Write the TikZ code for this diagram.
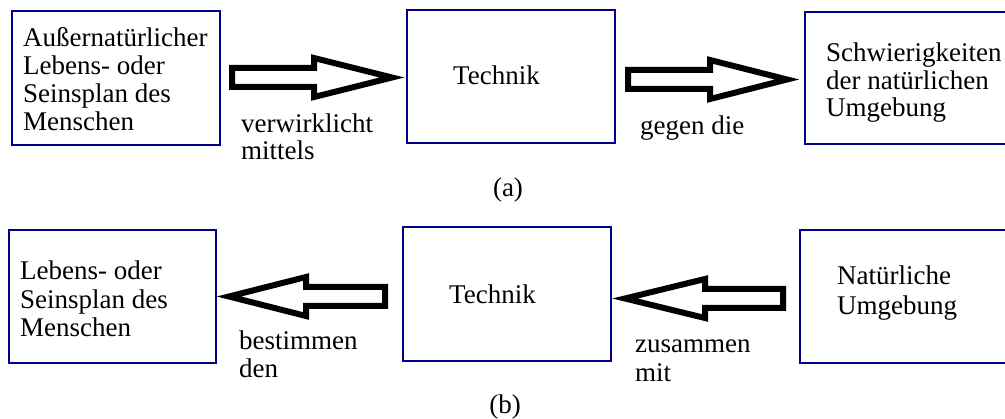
\documentclass[tikz,border=0pt]{standalone}
\usepackage{fontspec}
\setmainfont{Liberation Serif}
\usetikzlibrary{calc}
\definecolor{boxblue}{RGB}{0,0,140}
\newcommand\mylines[1]{\begin{tabular}[t]{@{}l@{}}#1\end{tabular}}
\newcommand\blockarrow[3]{%
  \draw[blockarr] ($(#1)+(0,-9.5)$) -- ($(#2)+({-1*(#3)},-9.5)$) -- ($(#2)+({-1*(#3)},-19.5)$)
    -- (#2) -- ($(#2)+({-1*(#3)},19.5)$) -- ($(#2)+({-1*(#3)},9.5)$) -- ($(#1)+(0,9.5)$) -- cycle;}
\tikzset{
  box/.style={draw=boxblue, line width=2pt, rectangle, inner sep=0pt},
  blockarr/.style={draw=black, fill=white, line width=6pt, line join=miter},
  txt/.style={inner sep=0pt, anchor=base west},
}
\begin{document}
\begin{tikzpicture}[x=1pt,y=-1pt]
\useasboundingbox (0,0) rectangle (1005,419);
\clip (0,0) rectangle (1005,419);
% boxes
\node[box, minimum width=208pt, minimum height=134pt] (b1) at (116,78) {};
\node[box, minimum width=208pt, minimum height=133pt] (b2) at (511,76.5) {};
\node[box, minimum width=405pt, minimum height=131.5pt] (b3) at (1007.5,78.25) {};
\node[box, minimum width=207.5pt, minimum height=133pt] (b4) at (112.25,296.5) {};
\node[box, minimum width=208pt, minimum height=134pt] (b5) at (507,294) {};
\node[box, minimum width=400pt, minimum height=133pt] (b6) at (1000,296.5) {};
% arrow end points
\coordinate (a1s) at ($(b1.east)+(11,-0.5)$);
\coordinate (a1e) at ($(b2.west |- a1s)+(-14,0)$);
\coordinate (a2s) at ($(b2.east)+(12,3)$);
\coordinate (a2e) at ($(b3.west |- a2s)+(-17,0)$);
\coordinate (a3s) at ($(b5.west)+(-17,2.5)$);
\coordinate (a3e) at ($(b4.east |- a3s)+(12,0)$);
\coordinate (a4s) at ($(b6.west)+(-16,2)$);
\coordinate (a4e) at ($(b5.east |- a4s)+(13,0)$);
\blockarrow{a1s}{a1e}{78}
\blockarrow{a2s}{a2e}{77}
\blockarrow{a3s}{a3e}{-77}
\blockarrow{a4s}{a4e}{-80}
% texts
\node[txt, font=\fontsize{27}{27.7}\selectfont] (t1) at (23,47) {\mylines{Außernatürlicher\\Lebens- oder\\Seinsplan des\\Menschen}};
\node[txt, font=\fontsize{27}{27.7}\selectfont] (t2) at (453,85) {Technik};
\node[txt, font=\fontsize{27}{27.5}\selectfont] (t3) at (826,62) {\mylines{Schwierigkeiten\\der natürlichen\\Umgebung}};
\node[txt, font=\fontsize{27}{26}\selectfont] (l1) at (241,133) {\mylines{verwirklicht\\mittels}};
\node[txt, font=\fontsize{27}{27}\selectfont] (l2) at (640,135) {gegen die};
\node[inner sep=0pt, anchor=base, font=\fontsize{27}{27}\selectfont] (ca) at (508,197) {(a)};
\node[txt, font=\fontsize{27}{28.5}\selectfont] (t4) at (20,280) {\mylines{Lebens- oder\\Seinsplan des\\Menschen}};
\node[txt, font=\fontsize{27}{27}\selectfont] (t5) at (449,304) {Technik};
\node[txt, font=\fontsize{27}{29.5}\selectfont] (t6) at (837,285) {\mylines{Natürliche\\Umgebung}};
\node[txt, font=\fontsize{27}{28}\selectfont] (l3) at (239,350) {\mylines{bestimmen\\den}};
\node[txt, font=\fontsize{27}{29}\selectfont] (l4) at (635,353) {\mylines{zusammen\\mit}};
\node[inner sep=0pt, anchor=base, font=\fontsize{27}{27}\selectfont] (cb) at (505,414) {(b)};
\end{tikzpicture}
\end{document}
